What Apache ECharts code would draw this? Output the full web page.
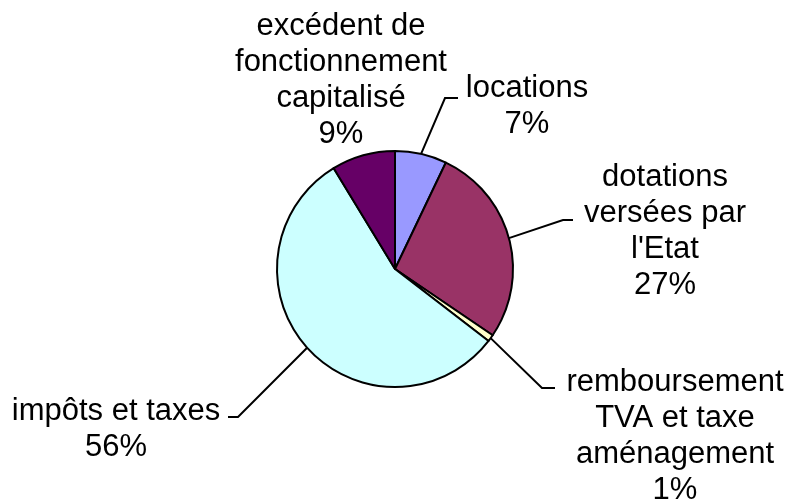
<!DOCTYPE html>
<html>
<head>
<meta charset="utf-8">
<script src="https://cdn.jsdelivr.net/npm/echarts@6/dist/echarts.min.js"></script>
<style>
  html, body { margin: 0; padding: 0; background: #fff; }
  #chart { width: 790px; height: 503px; }
</style>
</head>
<body>
<div id="chart"></div>
<script>
// Slice data (clockwise from 12 o'clock)
const names = [
  'locations',
  'dotations\nversées par\nl\'Etat',
  'remboursement\nTVA et taxe\naménagement',
  'impôts et taxes',
  'excédent de\nfonctionnement\ncapitalisé'
]
const values = [7.1, 27.4, 0.95, 55.9, 8.7]
const colors = ['#9999ff', '#993366', '#ffffcc', '#ccffff', '#660066']

// Label placement: [centerX, centerY] of each text block
const labelCenters = [[527, 106], [665, 231], [675, 436], [116, 429], [341, 80]]
// Leader line: [kneeX, kneeY, endX] (null = no leader)
const leaders = [[445, 98, 458], [563, 220, 573], [542, 388, 555], [238, 417, 228], null]

const chart = echarts.init(document.getElementById('chart'))

const option = {
  animation: false,
  series: [
    {
      type: 'pie',
      center: [395, 269],
      radius: 118,
      startAngle: 90,
      clockwise: true,
      avoidLabelOverlap: false,
      itemStyle: {
        borderColor: '#000',
        borderWidth: 2
      },
      label: {
        show: true,
        position: 'outside',
        color: '#000',
        fontFamily: 'Liberation Sans, Arial, sans-serif',
        fontSize: 31,
        lineHeight: 36,
        align: 'center',
        formatter: (p) => p.name + '\n' + Math.round(p.percent) + '%'
      },
      labelLine: {
        show: true,
        length: 10,
        length2: 10,
        lineStyle: { color: '#000', width: 2 }
      },
      emphasis: { disabled: true },
      labelLayout: (params) => {
        const i = params.dataIndex
        const res = {
          x: labelCenters[i][0],
          y: labelCenters[i][1],
          align: 'center',
          verticalAlign: 'middle'
        }
        const l = leaders[i]
        if (l && params.labelLinePoints) {
          const start = params.labelLinePoints[0]
          res.labelLinePoints = [start, [l[0], l[1]], [l[2], l[1]]]
        }
        return res
      },
      data: names.map((n, i) => ({
        name: n,
        value: values[i],
        itemStyle: { color: colors[i] },
        labelLine: { show: leaders[i] !== null }
      }))
    }
  ]
}

chart.setOption(option)
</script>
</body>
</html>
